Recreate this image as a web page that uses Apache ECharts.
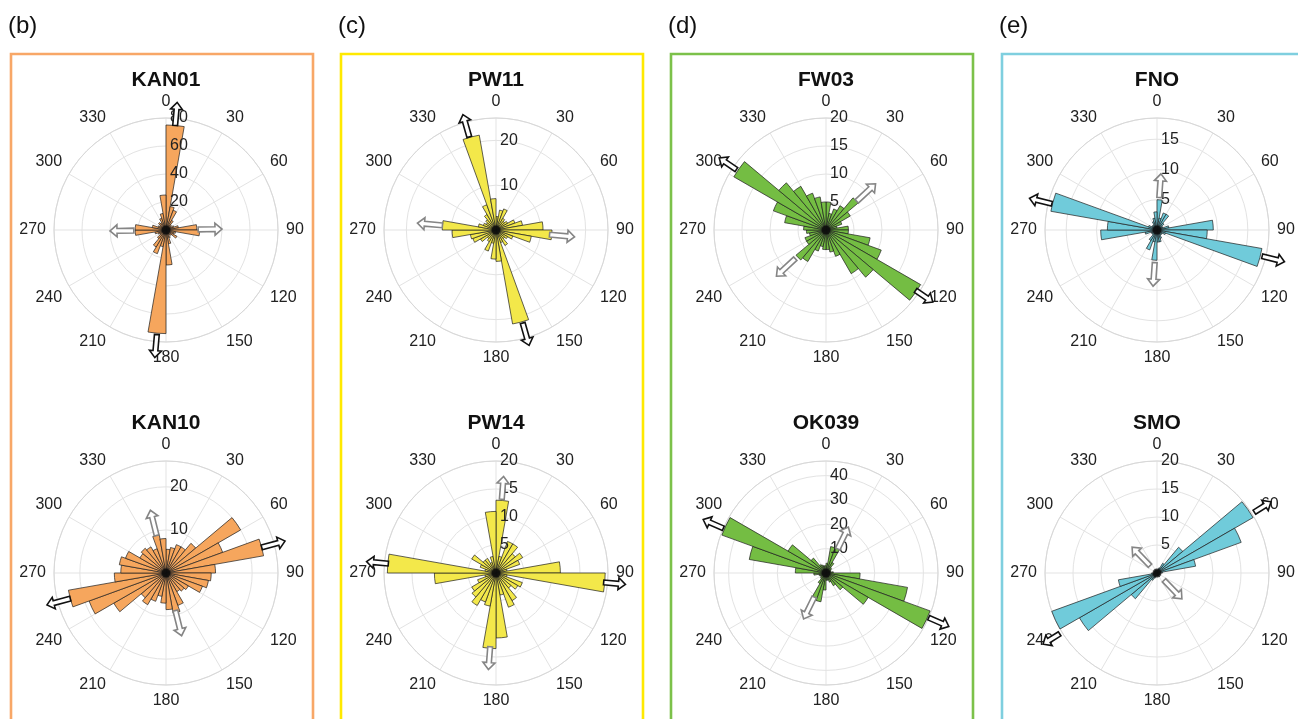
<!DOCTYPE html>
<html>
<head>
<meta charset="utf-8">
<script src="https://cdn.jsdelivr.net/npm/echarts@6/dist/echarts.min.js"></script>
<style>html,body{margin:0;padding:0;background:#fff}#c{width:1298px;height:719px}</style>
</head>
<body>
<div id="c"></div>
<script>
// ---- categories: 10-degree bins (start angle of each bin) ----
const binStarts = ['0','10','20','30','40','50','60','70','80','90','100','110',
  '120','130','140','150','160','170','180','190','200','210','220','230',
  '240','250','260','270','280','290','300','310','320','330','340','350'];
const angleTicks = [0,30,60,90,120,150,180,210,240,270,300,330];

// ---- rose names ----
const roseNames = ['KAN01','PW11','FW03','FNO','KAN10','PW14','OK039','SMO'];
const panelLabels = ['(b)','(c)','(d)','(e)'];

// ---- bin counts (36 bins, 0-10 ... 350-360, clockwise from north) ----
const KAN01 = [75,17,15,8,5,4,6,9,22,24,7,6,9,5,4,6,10,25,74,12,18,14,8,5,6,8,22,22,10,6,5,7,6,9,12,25];
const PW11  = [3,4.5,5,3,2.5,3,4.5,6,10.5,12.5,8,4,3,2.5,4,3,21.3,7,6.5,3,5,3,2.5,4,5.5,5.8,9.8,12,4,3,2.5,3,4,6,21.5,7];
const FW03  = [5,3,4,5,7.5,5,3,2,4,4,8,10.5,19.5,11,9,5,4,3.5,3.5,3,4,6.5,7,4,4,3,3.5,4,7.5,10,19,11,9,7,6,5];
const FNO   = [5,2,3,3,1.5,1,1,2,9.3,8.3,17.6,1.5,1,1,1,1.5,2,2,5,2,3.5,2,1,1,1,2,9.3,8.2,17.8,1.5,1,1,1,1.5,2,3];
const KAN10 = [5.5,6,7,7,9,20,14,23,11.5,10.5,10,9,6,5.5,5,8,9.5,8.5,7,5.5,7,8.5,7.5,14,19,23,12,10.5,11,10,7,7.5,7,6,9,8];
const PW14  = [13,3,6,6,4.5,5.5,4.5,2,11.5,19.5,2,5,4.5,3.5,5.7,6.5,4,11.6,13.5,6,5.5,6.7,5.6,5,3.5,2,11,19.4,2,3,5,3,3,2,3,11];
const OK039 = [4,11,11.5,5,3,2.5,2,2,3,14,34,45.5,20,9,6,4,3,3,7,12,12,5,3,2.5,2.5,3,5,12.6,32,45.5,18,8,4,3.5,3,3];
const SMO   = [0.5,0.5,1,2,6,19.8,16,7,1,0.5,0.5,0.5,0.5,0.5,0.5,0.5,0.5,0.5,0.5,0.5,1,1.5,6,16,20,7,1,0.5,0.5,0.5,0.5,0.5,0.5,0.5,0.5,0.5];
const roseValues = [KAN01, PW11, FW03, FNO, KAN10, PW14, OK039, SMO];

// ---- radial axis ranges and tick steps ----
const radiusMax  = [80, 25, 20, 18.5, 26, 20, 46, 20];
const radiusStep = [20, 10, 5, 5, 10, 5, 10, 5];

// ---- mean-orientation arrows: [angle, startRadius, endRadius] (axial, drawn both ways) ----
const mainArrows  = [[5,75,91.5],[164,21.6,26.8],[124,19.3,23],[284,17.9,21.7],
                     [75,23,28.6],[95,19.3,23.2],[113.5,46,55],[58,20.5,24]];
const minorArrows = [[89,23,40],[95,12,17.6],[47,7.5,12.1],[4,5.4,9.3],
                     [166,9,15],[184.5,13.2,17.3],[26,11,21],[136,1.8,6.4]];

// ---- dark hub where all bin outlines meet ----
const hubPoint = [[0, 0]];

// ---- styling ----
const FONT = '"Liberation Sans", Arial, Helvetica, sans-serif';
const barColors   = ['#F6A65D', '#F3E84A', '#74BD43', '#70CBDA'];
const frameColors = ['#F8A767', '#FFE900', '#7CC14A', '#7FCFDF'];
const centersX = [166, 496, 826, 1157];
const centersY = [230, 573];
const R = 112;

const polar = [], angleAxis = [], radiusAxis = [], series = [], graphic = [];

function arrowRenderer(color) {
  return function (params, api) {
    const r0 = api.value(0), r1 = api.value(1), ang = api.value(2);
    const p0 = api.coord([r0, ang]);
    const p1 = api.coord([r1, ang]);
    const dx = p1[0] - p0[0], dy = p1[1] - p0[1];
    const len = Math.hypot(dx, dy) || 1;
    const ux = dx / len, uy = dy / len, vx = -uy, vy = ux;
    const w = 2.4, h = 6, L = 7;
    const nx = p1[0] - ux * L, ny = p1[1] - uy * L;
    const pts = [
      [p0[0] + vx * w, p0[1] + vy * w],
      [nx + vx * w, ny + vy * w],
      [nx + vx * h, ny + vy * h],
      [p1[0], p1[1]],
      [nx - vx * h, ny - vy * h],
      [nx - vx * w, ny - vy * w],
      [p0[0] - vx * w, p0[1] - vy * w]
    ];
    return { type: 'polygon', shape: { points: pts },
      style: { fill: '#ffffff', stroke: color, lineWidth: 1.6 } };
  };
}

roseNames.forEach(function (name, k) {
  const col = k % 4, row = Math.floor(k / 4);
  const cx = centersX[col], cy = centersY[row];
  const base = k * 3;
  const rmax = radiusMax[k], step = radiusStep[k];

  // polar A: grid, spokes, angle labels
  polar.push({ center: [cx, cy], radius: R });
  angleAxis.push({
    polarIndex: base, type: 'value', min: 0, max: 360, interval: 30,
    startAngle: 90, clockwise: true, z: 0,
    axisLine: { show: true, lineStyle: { color: '#d8d8d8', width: 1 } },
    axisTick: { show: false },
    axisLabel: { show: true, margin: 8, color: '#222', fontSize: 16, fontFamily: FONT,
      formatter: function (v) { return angleTicks.indexOf(v) >= 0 ? String(v) : ''; } },
    splitLine: { show: true, lineStyle: { color: '#e3e3e3', width: 1 } }
  });
  radiusAxis.push({
    polarIndex: base, type: 'value', min: 0, max: rmax, interval: step, z: 0,
    axisLine: { show: false }, axisTick: { show: false }, axisLabel: { show: false },
    splitLine: { show: true, lineStyle: { color: '#e3e3e3', width: 1 } }
  });

  // polar B: bars
  polar.push({ center: [cx, cy], radius: R });
  angleAxis.push({
    polarIndex: base + 1, type: 'category', data: binStarts, boundaryGap: true,
    startAngle: 90, clockwise: true,
    axisLine: { show: false }, axisTick: { show: false }, axisLabel: { show: false },
    splitLine: { show: false }
  });
  radiusAxis.push({
    polarIndex: base + 1, type: 'value', min: 0, max: rmax,
    axisLine: { show: false }, axisTick: { show: false }, axisLabel: { show: false },
    splitLine: { show: false }
  });

  // polar C: radial tick labels on top
  polar.push({ center: [cx, cy], radius: R });
  angleAxis.push({
    polarIndex: base + 2, type: 'value', min: 0, max: 360, startAngle: 90, clockwise: true,
    axisLine: { show: false }, axisTick: { show: false }, axisLabel: { show: false },
    splitLine: { show: false }
  });
  radiusAxis.push({
    polarIndex: base + 2, type: 'value', min: 0, max: rmax, interval: step, z: 5,
    axisLine: { show: false }, axisTick: { show: false }, splitLine: { show: false },
    axisLabel: { show: true, margin: -4, align: 'left', verticalAlign: 'middle',
      color: '#222', fontSize: 16, fontFamily: FONT,
      formatter: function (v) {
        if (v <= 0) return '';
        const q = v / step;
        return Math.abs(q - Math.round(q)) < 1e-6 ? String(v) : '';
      } }
  });

  series.push({
    type: 'bar', coordinateSystem: 'polar', polarIndex: base + 1,
    data: roseValues[k], barCategoryGap: '0%', z: 2, silent: true,
    itemStyle: { color: barColors[col], borderColor: '#1e1e1e', borderWidth: 0.7 }
  });

  series.push({
    type: 'scatter', coordinateSystem: 'polar', polarIndex: base, z: 3, silent: true,
    data: hubPoint, symbol: 'circle', symbolSize: 9,
    itemStyle: { color: '#0a0a0a' }
  });

  const m = mainArrows[k], n = minorArrows[k];
  series.push({
    type: 'custom', coordinateSystem: 'polar', polarIndex: base, z: 8, silent: true,
    encode: { radius: 0, angle: 2 },
    renderItem: arrowRenderer('#111111'),
    data: [[m[1], m[2], m[0]], [m[1], m[2], (m[0] + 180) % 360]]
  });
  series.push({
    type: 'custom', coordinateSystem: 'polar', polarIndex: base, z: 8, silent: true,
    encode: { radius: 0, angle: 2 },
    renderItem: arrowRenderer('#858585'),
    data: [[n[1], n[2], n[0]], [n[1], n[2], (n[0] + 180) % 360]]
  });

  graphic.push({
    type: 'text', x: cx, y: row === 0 ? 80 : 423, z: 10,
    style: { text: name, fontSize: 21, fontWeight: 'bold', fontFamily: FONT,
      fill: '#111', align: 'center', verticalAlign: 'middle' }
  });
});

panelLabels.forEach(function (lab, c) {
  const x0 = centersX[c] - 155;
  graphic.push({
    type: 'rect', z: 0,
    shape: { x: x0, y: 54, width: 302, height: 700 },
    style: { fill: 'none', stroke: frameColors[c], lineWidth: 2.6 }
  });
  graphic.push({
    type: 'text', x: x0 - 3, y: 26, z: 10,
    style: { text: lab, fontSize: 24, fontFamily: FONT, fill: '#111',
      align: 'left', verticalAlign: 'middle' }
  });
});

const chart = echarts.init(document.getElementById('c'));
chart.setOption({
  animation: false,
  backgroundColor: '#ffffff',
  polar: polar, angleAxis: angleAxis, radiusAxis: radiusAxis,
  series: series, graphic: graphic
});
</script>
</body>
</html>
